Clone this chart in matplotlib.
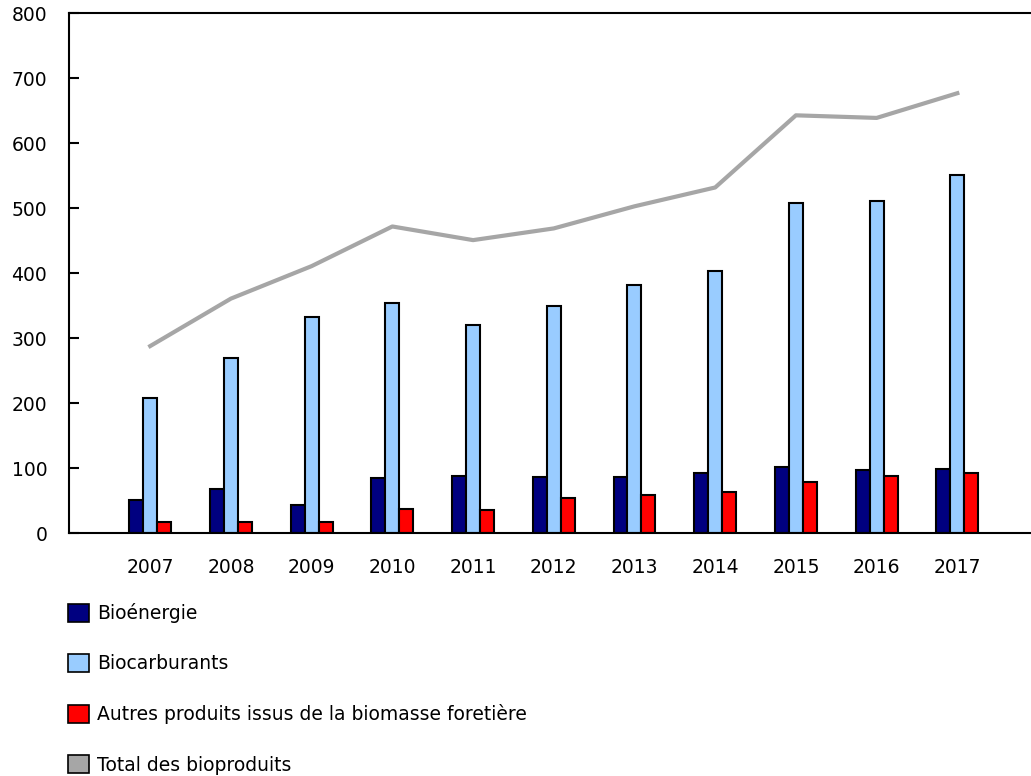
import matplotlib
matplotlib.use("Agg")
import matplotlib.pyplot as plt
from matplotlib.patches import Patch
import numpy as np

years = ["2007", "2008", "2009", "2010", "2011", "2012",
         "2013", "2014", "2015", "2016", "2017"]
bioenergie = [51, 68, 43, 85, 88, 87, 87, 93, 102, 98, 99]
biocarburants = [208, 270, 333, 355, 320, 350, 382, 403, 508, 511, 551]
autres = [18, 17, 18, 37, 36, 54, 59, 63, 79, 88, 93]
total = [288, 361, 411, 472, 451, 469, 503, 532, 643, 639, 677]

labels = ["Bioénergie", "Biocarburants",
          "Autres produits issus de la biomasse foretière",
          "Total des bioproduits"]
colors = ["#000080", "#99ccff", "#ff0000", "#a6a6a6"]

plt.rcParams['font.family'] = ['DejaVu Sans']
plt.rcParams['font.size'] = 13.5

fig = plt.figure(figsize=(10.31, 7.76), dpi=100)
ax = fig.add_axes([0.0674, 0.3128, 0.9316, 0.6701])

x = np.arange(1, len(years) + 1)
w = 0.173
ax.bar(x - w, bioenergie, w, color=colors[0], edgecolor="black", linewidth=1.5, zorder=2)
ax.bar(x, biocarburants, w, color=colors[1], edgecolor="black", linewidth=1.5, zorder=2)
ax.bar(x + w, autres, w, color=colors[2], edgecolor="black", linewidth=1.5, zorder=2)
ax.plot(x, total, color=colors[3], linewidth=3, zorder=3)

ax.set_xlim(0, 11.9)
ax.set_ylim(0, 800)
ax.set_yticks(range(0, 801, 100))
ax.set_xticks(x)
ax.set_xticklabels(years)
ax.tick_params(axis="y", direction="in", length=7, width=1.5, pad=16)
ax.tick_params(axis="x", length=0, pad=17.5)
ax.spines["right"].set_visible(False)
for s in ["left", "top", "bottom"]:
    ax.spines[s].set_linewidth(1.5)

handles = [Patch(facecolor=c, edgecolor="black", linewidth=1.2) for c in colors]
fig.legend(handles, labels, loc="upper left", bbox_to_anchor=(68 / 1031, 1 - 603 / 776),
           frameon=False, borderpad=0, borderaxespad=0, handlelength=1.1,
           handleheight=1.1, handletextpad=0.45, labelspacing=1.65)

fig.savefig("out.png", dpi=100)
